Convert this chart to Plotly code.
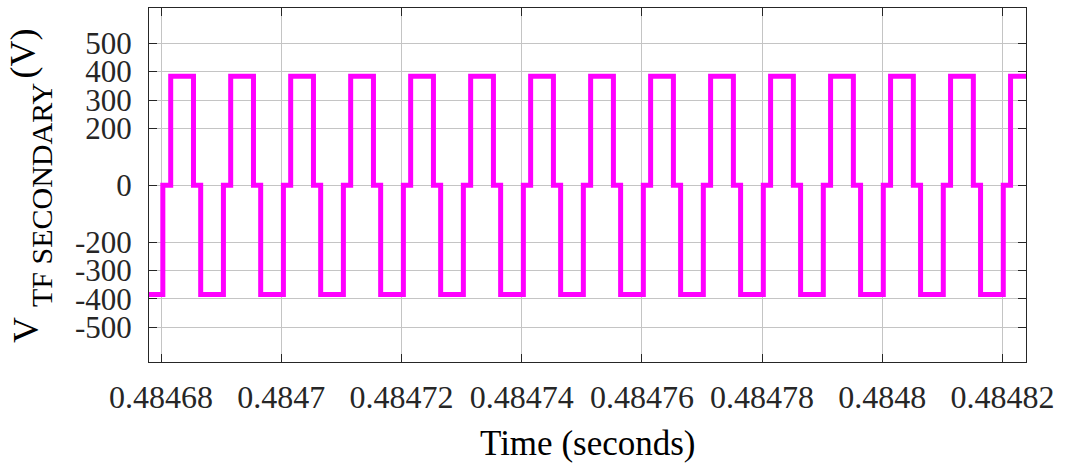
import plotly.graph_objects as go

# Switching instants of the transformer secondary voltage, in microseconds
# after t = 0.48468 s.
T0 = 0.48468
pos_on_us = [1.61, 11.59, 21.57, 31.55, 41.53, 51.51, 61.49, 71.47,
             81.45, 91.43, 101.41, 111.39, 121.37, 131.35, 141.33]
pos_off_us = [5.40, 15.38, 25.36, 35.34, 45.32, 55.30, 65.28, 75.26,
              85.24, 95.22, 105.20, 115.18, 125.16, 135.14, 145.12]
neg_on_us = [6.60, 16.58, 26.56, 36.54, 46.52, 56.50, 66.48, 76.46,
             86.44, 96.42, 106.40, 116.38, 126.36, 136.34]
neg_off_us = [0.30, 10.38, 20.36, 30.34, 40.32, 50.30, 60.28, 70.26,
              80.24, 90.22, 100.20, 110.18, 120.16, 130.14, 140.12]

V_HIGH = 384
V_LOW = -384
V_ZERO = 0
t_start_us = -3.0
t_end_us = 146.0

x_tickvals = [0.48468, 0.48470, 0.48472, 0.48474, 0.48476, 0.48478, 0.48480, 0.48482]
x_ticktext = ["0.48468", "0.4847", "0.48472", "0.48474", "0.48476", "0.48478", "0.4848", "0.48482"]
y_tickvals = [-500, -400, -300, -200, 0, 200, 300, 400, 500]
y_ticktext = ["-500", "-400", "-300", "-200", "0", "200", "300", "400", "500"]

# Build the stepped waveform from the event list
events = ([(t, V_HIGH) for t in pos_on_us] + [(t, V_ZERO) for t in pos_off_us] +
          [(t, V_LOW) for t in neg_on_us] + [(t, V_ZERO) for t in neg_off_us])
events.sort()
xs, ys = [t_start_us], [V_LOW]
level = V_LOW
for t, new_level in events:
    xs += [t, t]
    ys += [level, new_level]
    level = new_level
xs.append(t_end_us)
ys.append(level)
x_sec = [T0 + t * 1e-6 for t in xs]

FONT = "Liberation Serif"
TXT = "#262626"

fig = go.Figure()
fig.add_trace(go.Scatter(x=x_sec, y=ys, mode="lines",
                         line=dict(color="#ff00ff", width=5),
                         showlegend=False, hoverinfo="skip"))

L, R, T, B = 149, 39, 8, 102
W, H = 1065, 464
pw, ph = W - L - R, H - T - B


def px_x(p):
    return (p - L) / pw


def px_y(p):
    return (H - B - p) / ph


axis_common = dict(showline=True, linecolor=TXT, linewidth=1, mirror="ticks",
                   ticks="inside", ticklen=8, tickcolor=TXT,
                   showgrid=True, gridcolor="#c4c4c4", gridwidth=1,
                   zeroline=False, tickfont=dict(family=FONT, color=TXT))

fig.update_xaxes(range=[T0 - 2.0e-6, T0 + 143.9e-6], tickmode="array",
                 tickvals=x_tickvals, ticktext=x_ticktext,
                 ticklabelstandoff=7, **axis_common)
fig.update_xaxes(tickfont_size=32)
fig.update_yaxes(range=[-622, 624], tickmode="array",
                 tickvals=y_tickvals, ticktext=y_ticktext,
                 ticklabelstandoff=10, **axis_common)
fig.update_yaxes(tickfont_size=31)

annotations = [
    # x-axis title
    dict(text="Time (seconds)", x=0.5, y=px_y(443), xref="paper", yref="paper",
         xanchor="center", yanchor="middle", showarrow=False,
         font=dict(family=FONT, size=35, color="black")),
    # y-axis title: V, subscript, unit
    dict(text="V", x=px_x(25.4), y=px_y(344.5), xref="paper", yref="paper",
         xanchor="center", yanchor="bottom", textangle=-90, showarrow=False,
         font=dict(family=FONT, size=36, color="black")),
    dict(text="TF SECONDARY", x=px_x(41.0), y=px_y(309), xref="paper", yref="paper",
         xanchor="center", yanchor="bottom", textangle=-90, showarrow=False,
         font=dict(family=FONT, size=30, color="black")),
    dict(text="(V)", x=px_x(22.5), y=px_y(27), xref="paper", yref="paper",
         xanchor="center", yanchor="top", textangle=-90, showarrow=False,
         font=dict(family=FONT, size=36, color="black")),
]

fig.update_layout(width=W, height=H, margin=dict(l=L, r=R, t=T, b=B),
                  paper_bgcolor="white", plot_bgcolor="white",
                  annotations=annotations, showlegend=False)

fig.write_html("out.html")
